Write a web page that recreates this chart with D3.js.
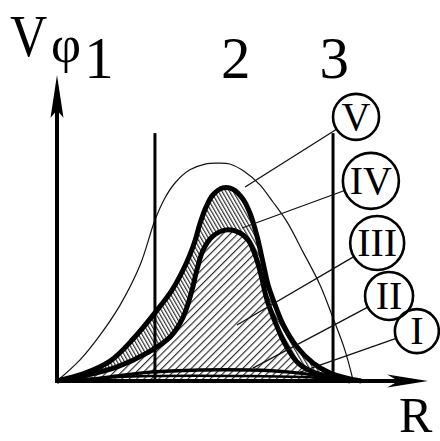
<!DOCTYPE html>
<html>
<head>
<meta charset="utf-8">
<script src="https://cdn.jsdelivr.net/npm/d3@7"></script>
<style>
  html, body { margin: 0; padding: 0; background: #fff; }
  svg { display: block; }
</style>
</head>
<body>
<svg id="chart" width="440" height="441"></svg>
<script>
// Velocity profiles Vφ(R), regimes I–V
const curveV   = [[0,0],[0.62,0.69],[1.16,1.50],[1.70,2.48],[2.24,3.79],[2.64,5.26],[2.91,5.98],[3.18,6.47],[3.58,6.90],[3.99,7.09],[4.31,7.12],[4.66,7.09],[5.07,6.83],[5.47,6.41],[5.82,5.85],[6.20,5.20],[6.63,4.22],[7.09,3.14],[7.44,2.06],[7.76,1.01],[7.98,0.03]];
const curveIV  = [[0,0],[0.70,0.23],[1.43,0.65],[2.05,1.37],[2.70,2.32],[3.10,2.97],[3.40,3.63],[3.58,4.12],[3.72,4.58],[3.85,5.13],[4.02,5.69],[4.20,6.08],[4.47,6.31],[4.74,6.27],[5.01,5.95],[5.20,5.49],[5.39,4.74],[5.55,3.89],[5.69,3.14],[5.88,2.48],[6.09,1.86],[6.47,1.11],[6.90,0.59],[7.36,0.26],[7.90,0.07],[8.2,0]];
const curveIII = [[0,0],[0.70,0.16],[1.62,0.46],[2.43,0.92],[3.05,1.44],[3.40,2.09],[3.64,2.97],[3.77,3.63],[3.94,4.28],[4.18,4.71],[4.53,4.93],[4.88,4.87],[5.15,4.61],[5.34,4.12],[5.50,3.46],[5.66,2.65],[5.88,1.93],[6.12,1.27],[6.47,0.62],[6.90,0.29],[7.49,0.10],[7.9,0]];
const curveII  = [[0.62,0],[1.43,0.13],[2.51,0.29],[3.85,0.36],[5.20,0.36],[6.28,0.29],[7.09,0.16],[7.76,0]];
const curveI   = [[0.08,0],[1.5,0.12],[2.51,0.16],[5.20,0.16],[6.8,0.12],[7.63,0]];

// boundaries between zones 1 | 2 | 3
const zoneLines  = [2.64, 7.44];
const zoneTop    = 8.1;
const zoneLabels = [["1", 1.13], ["2", 4.82], ["3", 7.47]];

// circled regime labels: name, circle centre (R, V), radius, leader target (R, V)
const regimeNames   = ["V", "IV", "III", "II", "I"];
const regimeCircles = [[8.06, 8.63], [8.46, 6.54], [8.63, 4.51], [8.95, 2.78], [9.70, 1.63]];
const regimeRadii   = [23, 28, 27, 24, 22];
const regimeTargets = [[5.07, 6.34], [4.99, 5.00], [4.85, 1.83], [5.28, 0.42], [6.55, 0.29]];

const SERIF = "'Liberation Serif', 'Times New Roman', 'DejaVu Serif', serif";

const svg = d3.select("#chart");
const x = d3.scaleLinear().domain([0, 10]).range([57, 428]);
const y = d3.scaleLinear().domain([0, 10]).range([381, 75]);

const defs = svg.append("defs");
// dense hatch for the band between IV and III
const pBand = defs.append("pattern")
  .attr("id", "hatchBand").attr("patternUnits", "userSpaceOnUse")
  .attr("width", 3.2).attr("height", 10)
  .attr("patternTransform", "rotate(-30)");
pBand.append("rect").attr("width", 3.2).attr("height", 10).attr("fill", "#fff");
pBand.append("line").attr("x1", 0.6).attr("y1", 0).attr("x2", 0.6).attr("y2", 10)
  .attr("stroke", "#222").attr("stroke-width", 1.1);
// open hatch under III
const pCore = defs.append("pattern")
  .attr("id", "hatchCore").attr("patternUnits", "userSpaceOnUse")
  .attr("width", 5.2).attr("height", 10)
  .attr("patternTransform", "rotate(45)");
pCore.append("rect").attr("width", 5.2).attr("height", 10).attr("fill", "#fff");
pCore.append("line").attr("x1", 0.6).attr("y1", 0).attr("x2", 0.6).attr("y2", 10)
  .attr("stroke", "#222").attr("stroke-width", 1.1);

const line = d3.line().x(d => x(d[0])).y(d => y(d[1])).curve(d3.curveCatmullRom.alpha(0.5));
const area = d3.area().x(d => x(d[0])).y0(y(0)).y1(d => y(d[1])).curve(d3.curveCatmullRom.alpha(0.5));

// hatched regions
svg.append("path").attr("d", area(curveIV)).attr("fill", "url(#hatchBand)");
svg.append("path").attr("d", area(curveIII)).attr("fill", "url(#hatchCore)");

// thin outer profile V
svg.append("path").attr("d", line(curveV)).attr("fill", "none")
  .attr("stroke", "#111").attr("stroke-width", 1.2);

// zone boundaries
svg.selectAll("line.zone").data(zoneLines).join("line")
  .attr("class", "zone")
  .attr("x1", d => x(d)).attr("x2", d => x(d))
  .attr("y1", y(zoneTop)).attr("y2", y(0))
  .attr("stroke", "#000").attr("stroke-width", 3);

// thick profiles
svg.append("path").attr("d", line(curveIII)).attr("fill", "none")
  .attr("stroke", "#000").attr("stroke-width", 5).attr("stroke-linejoin", "round");
svg.append("path").attr("d", line(curveIV)).attr("fill", "none")
  .attr("stroke", "#000").attr("stroke-width", 5).attr("stroke-linejoin", "round");
svg.append("path").attr("d", line(curveII)).attr("fill", "none")
  .attr("stroke", "#000").attr("stroke-width", 3.5);
svg.append("path").attr("d", line(curveI)).attr("fill", "none")
  .attr("stroke", "#000").attr("stroke-width", 2.5);

// axes with arrowheads
svg.append("line").attr("x1", x(0)).attr("y1", y(0)).attr("x2", x(0)).attr("y2", y(9.2))
  .attr("stroke", "#000").attr("stroke-width", 4);
svg.append("line").attr("x1", x(0) - 2).attr("y1", y(0)).attr("x2", x(9.2)).attr("y2", y(0))
  .attr("stroke", "#000").attr("stroke-width", 4);
svg.append("path")
  .attr("d", `M${x(0)},${y(10)} L${x(0) + 6.5},${y(8.6)} L${x(0)},${y(8.85)} L${x(0) - 6.5},${y(8.6)} Z`)
  .attr("fill", "#000");
svg.append("path")
  .attr("d", `M${x(10)},${y(0)} L${x(8.9)},${y(0) - 6.5} L${x(9.2)},${y(0)} L${x(8.9)},${y(0) + 6.5} Z`)
  .attr("fill", "#000");

// axis titles
svg.append("text").attr("transform", "translate(10,56) scale(0.86,1)")
  .attr("font-family", SERIF).attr("font-size", 60).text("V");
svg.append("text").attr("x", 51).attr("y", 62)
  .attr("font-family", SERIF).attr("font-size", 52).text("φ");
svg.append("text").attr("x", 399).attr("y", 432)
  .attr("font-family", SERIF).attr("font-size", 50).text("R");

// zone numbers
svg.selectAll("text.zone").data(zoneLabels).join("text")
  .attr("class", "zone")
  .attr("x", d => x(d[1])).attr("y", y(9.9))
  .attr("text-anchor", "middle").attr("font-family", SERIF).attr("font-size", 59)
  .text(d => d[0]);

// leaders and circled regime labels
regimeNames.forEach((name, i) => {
  const cx = x(regimeCircles[i][0]), cy = y(regimeCircles[i][1]), r = regimeRadii[i];
  const tx = x(regimeTargets[i][0]), ty = y(regimeTargets[i][1]);
  const dx = tx - cx, dy = ty - cy, len = Math.hypot(dx, dy);
  svg.append("line")
    .attr("x1", cx + dx / len * r).attr("y1", cy + dy / len * r)
    .attr("x2", tx).attr("y2", ty)
    .attr("stroke", "#111").attr("stroke-width", 1.3);
  svg.append("circle").attr("cx", cx).attr("cy", cy).attr("r", r)
    .attr("fill", "none").attr("stroke", "#000").attr("stroke-width", 2.6);
  svg.append("text").attr("x", cx).attr("y", cy + 13)
    .attr("text-anchor", "middle").attr("font-family", SERIF).attr("font-size", 40)
    .text(name);
});
</script>
</body>
</html>
